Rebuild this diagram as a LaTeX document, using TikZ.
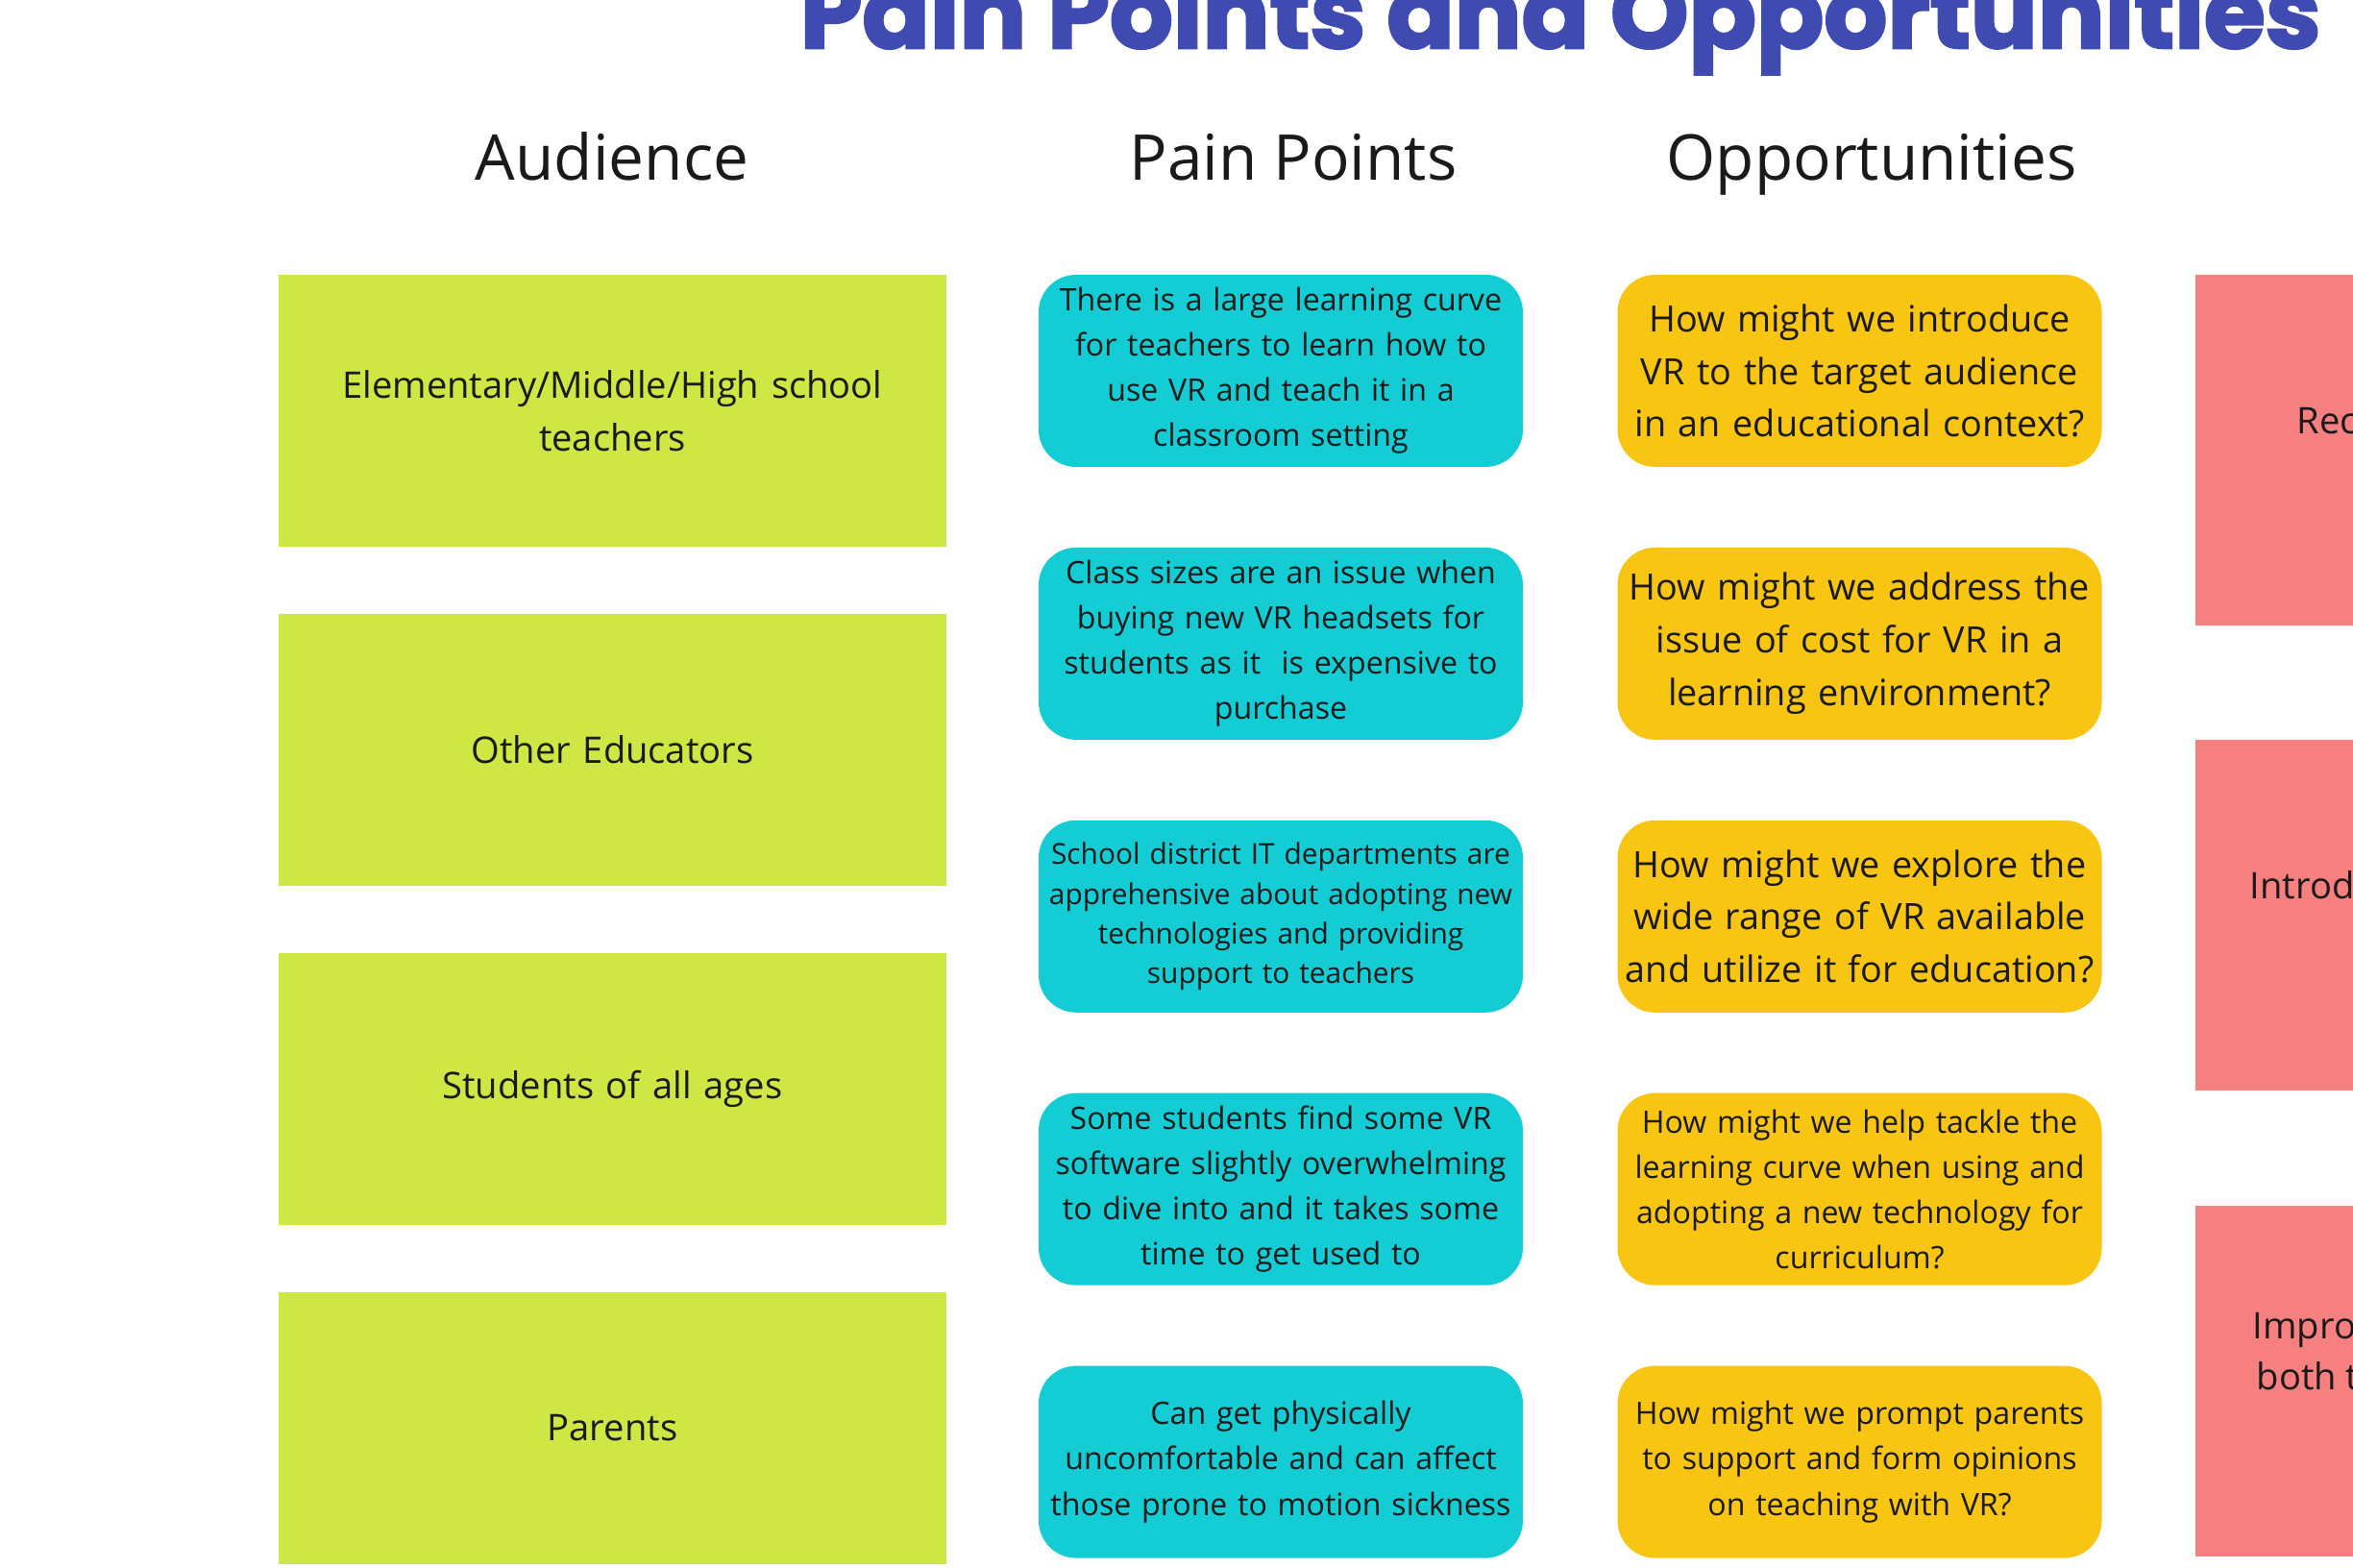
\documentclass[tikz,border=0pt]{standalone}
\usepackage{fontspec}
\setmainfont{Open Sans}
\newfontfamily\titlefont[BoldFeatures={FakeBold=2.5}]{Poppins}
\usepackage{tikz}
\usetikzlibrary{positioning}
\definecolor{audgreen}{RGB}{207,231,68}
\definecolor{paincyan}{RGB}{20,204,212}
\definecolor{oppyellow}{RGB}{249,197,19}
\definecolor{ideapink}{RGB}{246,128,128}
\definecolor{titleblue}{RGB}{64,75,178}
\definecolor{inkgray}{RGB}{26,26,26}

\begin{document}
\begin{tikzpicture}[
    audience/.style={fill=audgreen, minimum width=6.95cm, minimum height=2.83cm,
                     text width=6.6cm, align=center, text=inkgray,
                     font=\fontsize{10.85}{15.6}\selectfont},
    pain/.style={fill=paincyan, rounded corners=0.39cm, minimum width=5.04cm,
                 minimum height=2cm, text width=4.95cm, inner xsep=0.03cm,
                 align=center, text=inkgray, font=\fontsize{9.15}{13.4}\selectfont},
    opp/.style={pain, fill=oppyellow},
    idea/.style={fill=ideapink, minimum width=5cm, minimum height=3.65cm, anchor=west},
    ideatext/.style={anchor=mid west, inner sep=0pt, text=inkgray,
                     font=\fontsize{10.85}{15.6}\selectfont},
    header/.style={anchor=base, text=inkgray, font=\fontsize{18.7}{22}\selectfont}
]
    \useasboundingbox[fill=white] (0,0) rectangle (24.49,-16.32);

    % title and column headers
    \node[anchor=base west, text=titleblue, inner sep=0pt,
          font=\titlefont\bfseries\fontsize{29.5}{33}\selectfont] (title) at (8.32,-0.5)
          {Pain Points and Opportunities};
    \node[header] (hdaud) at (6.37,-1.88) {Audience};
    \node[header] (hdpain) at (13.46,-1.88) {Pain Points};
    \node[header] (hdopp) at (19.48,-1.88) {Opportunities};

    % audience
    \node[audience] (aud1) at (6.375,-4.275) {Elementary/Middle/High school\\teachers};
    \node[audience, below=0.685cm of aud1] (aud2) {Other Educators};
    \node[audience, below=0.685cm of aud2] (aud3) {Students of all ages};
    \node[audience, below=0.685cm of aud3] (aud4) {Parents};

    % pain points
    \node[pain] (pain1) at (13.33,-3.86)
        {There is a large learning curve\\for teachers to learn how to\\use VR and teach it in a\\classroom setting};
    \node[pain, below=0.825cm of pain1] (pain2)
        {Class sizes are an issue when\\buying new VR headsets for\\students as it\ \ is expensive to\\purchase};
    \node[pain, below=0.825cm of pain2, font=\fontsize{8.5}{11.7}\selectfont] (pain3)
        {School district IT departments are\\apprehensive about adopting new\\technologies and providing\\support to teachers};
    \node[pain, below=0.825cm of pain3] (pain4)
        {Some students find some VR\\software slightly overwhelming\\to dive into and it takes some\\time to get used to};
    \node[pain, below=0.825cm of pain4] (pain5)
        {Can get physically\\uncomfortable and can affect\\those prone to motion sickness};

    % opportunities
    \node[opp, font=\fontsize{10.75}{15.6}\selectfont] (opp1) at (19.355,-3.86)
        {How might we introduce\\VR to the target audience\\in an educational context?};
    \node[opp, below=0.825cm of opp1, font=\fontsize{10.75}{15.6}\selectfont] (opp2)
        {How might we address the\\issue of cost for VR in a\\learning environment?};
    \node[opp, below=0.825cm of opp2, font=\fontsize{10.75}{15.6}\selectfont] (opp3)
        {How might we explore the\\wide range of VR available\\and utilize it for education?};
    \node[opp, below=0.825cm of opp3] (opp4)
        {How might we help tackle the\\learning curve when using and\\adopting a new technology for\\curriculum?};
    \node[opp, below=0.825cm of opp4] (opp5)
        {How might we prompt parents\\to support and form opinions\\on teaching with VR?};

    % ideas (cut off at the right edge)
    \node[idea] (idea1) at (22.84,-4.685) {};
    \node[idea, below=1.18cm of idea1.south west, anchor=north west] (idea2) {};
    \node[idea, below=1.18cm of idea2.south west, anchor=north west] (idea3) {};
    \node[ideatext] (idea1txt) at (23.90,-4.42) {Rec};
    \node[ideatext] (idea2txt) at (23.41,-9.26) {Introd};
    \node[ideatext] (idea3txt) at (23.44,-13.84) {Impro};
    \node[ideatext] (idea3txtb) at (23.48,-14.37) {both t};
\end{tikzpicture}
\end{document}
